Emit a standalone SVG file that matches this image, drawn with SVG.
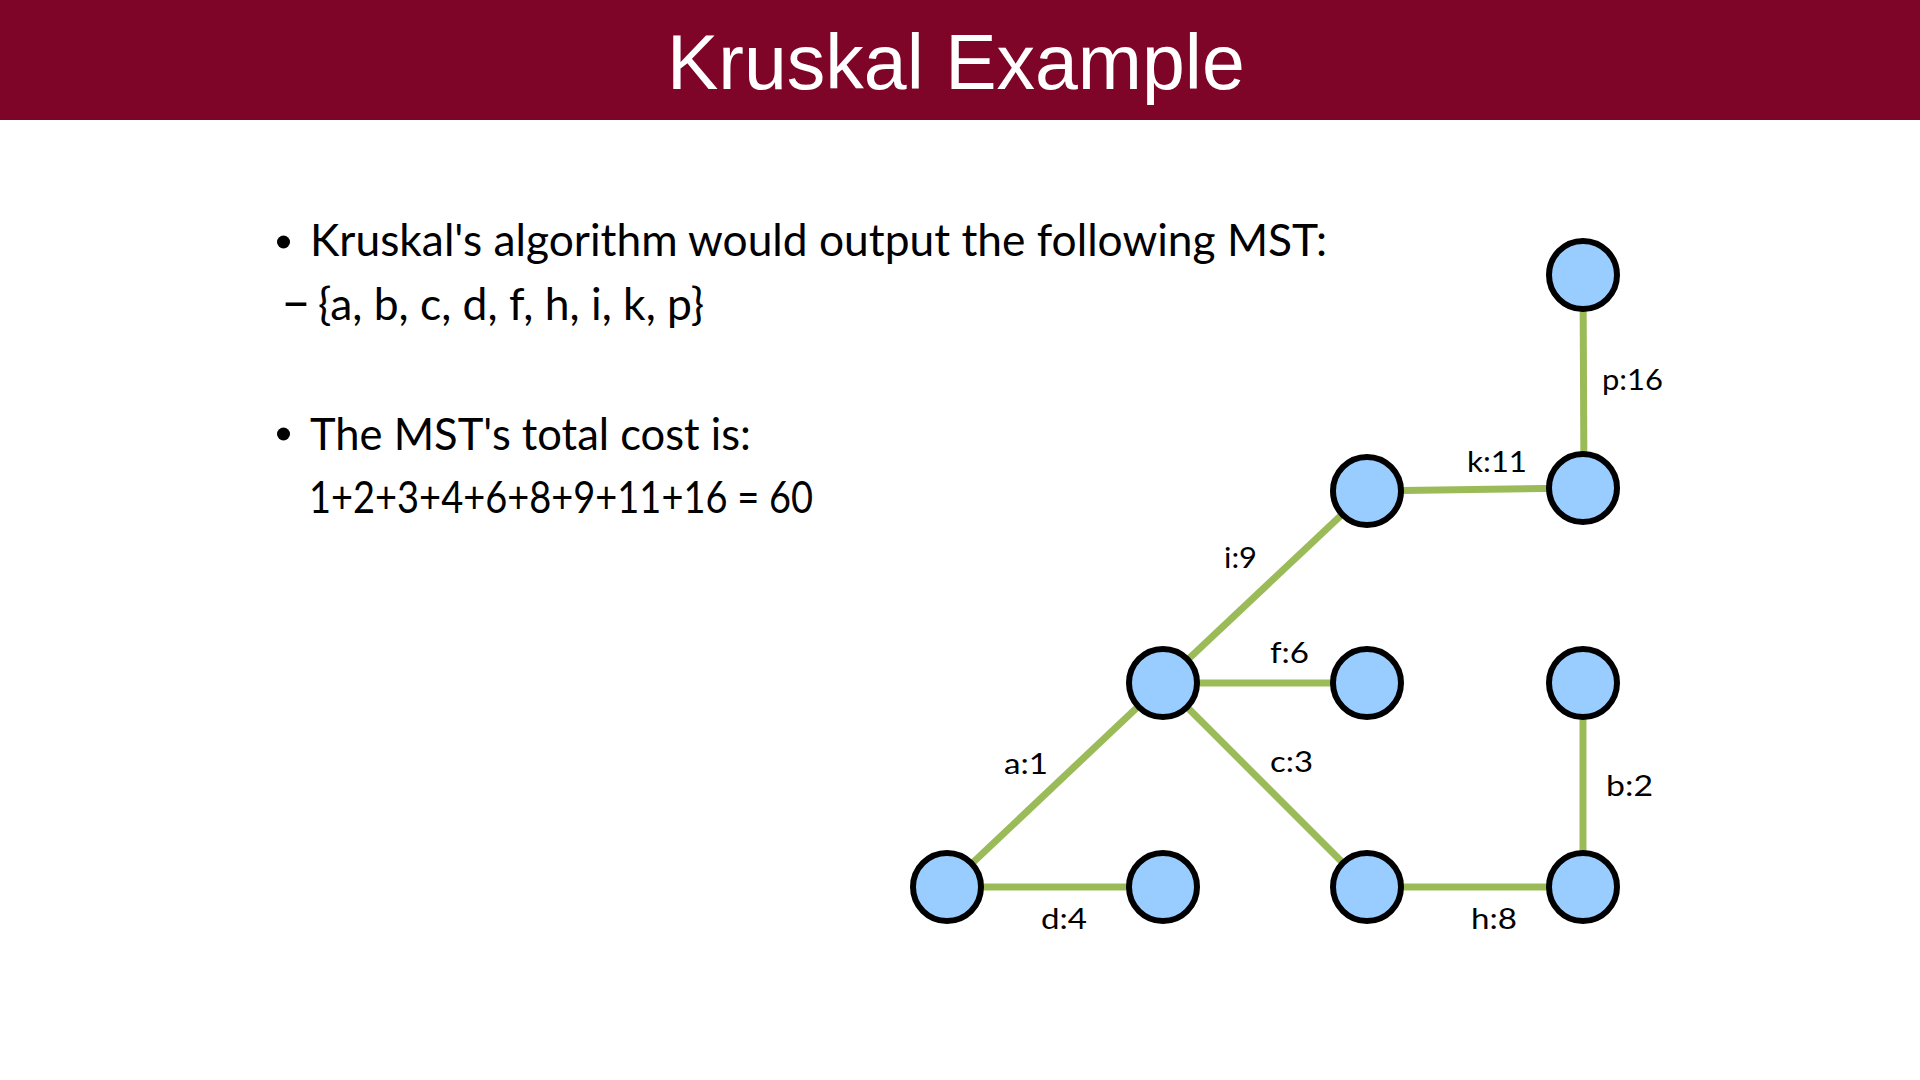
<svg xmlns="http://www.w3.org/2000/svg" width="1920" height="1080" viewBox="0 0 1920 1080">
<style>
.title{font-family:"Liberation Sans",Arial,sans-serif;font-size:77px;fill:#ffffff}
.body{font-family:Lato,"Open Sans",sans-serif;font-size:44px;fill:#000000}
.lbl{font-family:Lato,"Open Sans",sans-serif;font-size:29px;fill:#000000}
.node{fill:#99CCFF;stroke:#000000;stroke-width:6}
.edge{stroke:#9BBB59;stroke-width:7;fill:none}
</style>
<rect x="0" y="0" width="1920" height="120" fill="#7E0428"/>
<text class="title" x="667" y="89">Kruskal Example</text>
<circle cx="283.5" cy="242" r="6.5" fill="#000"/>
<text class="body" x="310" y="256" textLength="1017" lengthAdjust="spacingAndGlyphs">Kruskal's algorithm would output the following MST:</text>
<text class="body" x="281" y="320" style="font-size:54px" textLength="30" lengthAdjust="spacingAndGlyphs">–</text>
<text class="body" x="318" y="320" textLength="386" lengthAdjust="spacingAndGlyphs">{a, b, c, d, f, h, i, k, p}</text>
<circle cx="283.5" cy="434" r="6.5" fill="#000"/>
<text class="body" x="310" y="450" textLength="441" lengthAdjust="spacingAndGlyphs">The MST's total cost is:</text>
<text class="body" x="309" y="513" textLength="504" lengthAdjust="spacingAndGlyphs">1+2+3+4+6+8+9+11+16 = 60</text>
<g id="connectors">
<line class="edge" x1="1163" y1="683" x2="1367" y2="491"/>
<line class="edge" x1="1163" y1="683" x2="1367" y2="683"/>
<line class="edge" x1="947" y1="887" x2="1163" y2="683"/>
<line class="edge" x1="1163" y1="683" x2="1367" y2="887"/>
<line class="edge" x1="947" y1="887" x2="1163" y2="887"/>
<line class="edge" x1="1367" y1="887" x2="1583" y2="887"/>
<line class="edge" x1="1583" y1="683" x2="1583" y2="887"/>
<line class="edge" x1="1367" y1="491" x2="1583" y2="488"/>
<line class="edge" x1="1583" y1="275" x2="1584" y2="488"/>
</g>
<g id="labels">
<text class="lbl" x="1602" y="390" textLength="61" lengthAdjust="spacingAndGlyphs">p:16</text>
<text class="lbl" x="1467" y="472" textLength="60" lengthAdjust="spacingAndGlyphs">k:11</text>
<text class="lbl" x="1224" y="568" textLength="33" lengthAdjust="spacingAndGlyphs">i:9</text>
<text class="lbl" x="1270" y="663" textLength="39" lengthAdjust="spacingAndGlyphs">f:6</text>
<text class="lbl" x="1004" y="774" textLength="44" lengthAdjust="spacingAndGlyphs">a:1</text>
<text class="lbl" x="1270" y="772" textLength="43" lengthAdjust="spacingAndGlyphs">c:3</text>
<text class="lbl" x="1041" y="929" textLength="46" lengthAdjust="spacingAndGlyphs">d:4</text>
<text class="lbl" x="1606" y="796" textLength="47" lengthAdjust="spacingAndGlyphs">b:2</text>
<text class="lbl" x="1471" y="929" textLength="46" lengthAdjust="spacingAndGlyphs">h:8</text>
</g>
<g id="node-top"><circle class="node" cx="1583" cy="275" r="34"/></g>
<g id="node-k-right"><circle class="node" cx="1583" cy="488" r="34"/></g>
<g id="node-k-left"><circle class="node" cx="1367" cy="491" r="34"/></g>
<g id="node-center"><circle class="node" cx="1163" cy="683" r="34"/></g>
<g id="node-f"><circle class="node" cx="1367" cy="683" r="34"/></g>
<g id="node-b-top"><circle class="node" cx="1583" cy="683" r="34"/></g>
<g id="node-bottom-left"><circle class="node" cx="947" cy="887" r="34"/></g>
<g id="node-d"><circle class="node" cx="1163" cy="887" r="34"/></g>
<g id="node-h-left"><circle class="node" cx="1367" cy="887" r="34"/></g>
<g id="node-bottom-right"><circle class="node" cx="1583" cy="887" r="34"/></g>
</svg>
